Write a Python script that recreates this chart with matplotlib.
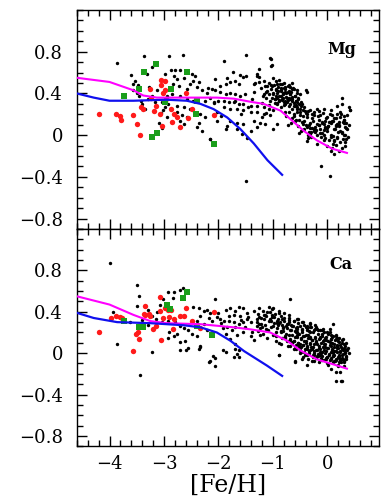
import matplotlib
matplotlib.use("Agg")
import matplotlib.pyplot as plt
from matplotlib.ticker import MultipleLocator, FixedLocator, FuncFormatter

# ---- Mg panel data ----
mg_black_x = [
    -3.87, -3.375, -2.91, -2.65, -3.22, -3.61, -3.57, -3.47, -3.31, -3.28, -3.13, -3.22, -3.16, -3.04, -3.01,
    -2.98, -2.88, -2.79, -2.70, -2.82, -2.76, -2.84, -2.73, -2.64, -2.49, -2.43, -2.46, -2.36, -2.52, -2.39,
    -2.57, -2.30, -2.21, -2.12, -2.16, -2.70, -2.58, -2.46, -2.24, -2.09, -2.76, -2.64, -2.52, -2.76, -2.67,
    -2.58, -2.70, -2.64, -2.33, -2.24, -2.36, -2.39, -2.30, -3.10, -3.04, -2.95, -2.98, -2.85, -2.95, -2.15,
    -3.53, -3.45, -3.40, -3.35, -3.30, -3.56, -3.50, -3.42, -3.05, -2.92,
    -1.89, -1.49, -1.06, -1.03, -1.03, -1.26, -1.73, -1.60, -1.54, -1.49, -1.29, -1.26, -2.06, -1.84, -1.78,
    -1.69, -0.99, -0.89, -1.86, -1.97, -1.63, -1.35, -1.26, -1.11, -1.02, -0.92, -0.83, -0.77, -0.68, -0.56,
    -0.37, -0.95, -0.86, -0.77, -0.68, -0.59, -0.50, -2.06, -1.97, -1.87, -1.78, -1.69, -1.60, -1.51, -1.35,
    -1.17, -1.08, -0.92, -0.83, -0.74, -0.65, -0.56, -0.46, -0.77, -0.92, -2.09, -2.00, -1.90, -1.81, -1.72,
    -1.63, -1.54, -1.41, -1.29, -1.17, -1.08, -0.99, -1.90, -1.78, -1.66, -1.54, -1.41, -1.29, -1.17, -1.05,
    -0.43, -0.31, -0.19, -0.07, 0.06, 0.18, 0.27, 0.39, -0.37, -0.25, -0.13, -0.01, 0.12, 0.24, 0.36,
    -0.43, -0.31, -0.19, -0.07, 0.06, 0.18, 0.30, -0.37, -0.25, -0.13, -0.01, 0.12, 0.24, 0.33,
    -0.31, -0.19, -0.07, 0.06, 0.18, 0.30, 0.12, 0.24, 0.03, 0.27, 0.42, 0.40, 0.36, 0.38, 0.33,
    -1.78, -1.66, -1.54, -1.66, -1.84, -1.35, -1.23, -1.14, -0.92, -0.99, -1.29, -1.41, -1.57, -1.48,
    -2.03, -2.03, -1.87,
    -2.16, -1.50, -0.12, 0.05, -0.37, -0.19, -0.07, 0.00, 0.09, 0.15, 0.27, 0.33, 0.12, 0.06, 0.22,
    -1.00, -0.95, -0.90, -0.85, -0.80, -0.75, -0.70, -0.65, -0.62, -0.88, -0.80, -0.72, -0.60, -0.55, -0.50,
    -0.65, -0.70, -0.85, -0.78, -0.62, -0.52, -0.45, -0.97, -0.82, -0.68, -0.58, -0.41, -0.28, -0.16, -0.04,
    0.09, 0.21, 0.31, -0.34, -0.22, -0.10, 0.02, 0.15, 0.26, -0.47, -0.40, -0.35, -0.28, -0.22, -0.15,
    -0.05, 0.03, 0.10, 0.17, 0.21, 0.28, 0.35, -1.12, -1.20, -1.38, -1.45, -1.58, -1.70, -1.95, -2.20,
]
mg_black_y = [
    0.69, 0.76, 0.76, 0.77, 0.65, 0.58, 0.49, 0.48, 0.59, 0.46, 0.43, 0.38, 0.32, 0.32, 0.24,
    0.59, 0.62, 0.62, 0.62, 0.57, 0.54, 0.49, 0.47, 0.55, 0.59, 0.57, 0.52, 0.51, 0.49, 0.46,
    0.44, 0.43, 0.40, 0.44, 0.36, 0.38, 0.35, 0.33, 0.33, 0.31, 0.28, 0.27, 0.25, 0.22, 0.19,
    0.17, 0.14, 0.11, 0.20, 0.17, 0.12, 0.08, 0.04, 0.12, 0.07, 0.17, 0.27, 0.39, 0.38, -0.04,
    0.52, 0.38, 0.30, 0.25, 0.35, 0.43, 0.40, 0.33, 0.21, 0.30,
    0.71, 0.77, 0.74, 0.73, 0.66, 0.63, 0.61, 0.58, 0.56, 0.57, 0.59, 0.56, 0.54, 0.55, 0.51,
    0.52, 0.55, 0.53, 0.49, 0.47, 0.49, 0.49, 0.51, 0.47, 0.47, 0.49, 0.49, 0.46, 0.46, 0.43,
    0.41, 0.44, 0.43, 0.41, 0.39, 0.38, 0.39, 0.43, 0.41, 0.39, 0.40, 0.39, 0.38, 0.39, 0.41,
    0.39, 0.39, 0.36, 0.35, 0.36, 0.33, 0.32, 0.30, 0.30, 0.30, 0.32, 0.33, 0.33, 0.32, 0.32,
    0.30, 0.30, 0.28, 0.28, 0.27, 0.25, 0.24, 0.27, 0.25, 0.25, 0.24, 0.22, 0.22, 0.20, 0.19,
    0.27, 0.24, 0.25, 0.25, 0.24, 0.28, 0.30, 0.27, 0.20, 0.19, 0.19, 0.17, 0.16, 0.17, 0.19,
    0.14, 0.12, 0.11, 0.11, 0.12, 0.11, 0.12, 0.08, 0.06, 0.06, 0.04, 0.06, 0.04, 0.08,
    0.01, 0.00, 0.00, -0.02, -0.02, 0.00, -0.05, -0.07, -0.05, 0.36, 0.24, 0.10, 0.06, -0.02, -0.10,
    0.14, 0.12, 0.11, 0.06, 0.09, 0.14, 0.12, 0.11, 0.11, 0.06, 0.08, 0.04, 0.01, -0.03,
    0.22, 0.14, 0.06,
    -0.04, -0.44, -0.30, -0.39, -0.06, -0.08, -0.05, -0.10, -0.12, -0.09, -0.12, -0.07, -0.18, -0.15, -0.15,
    0.40, 0.38, 0.42, 0.38, 0.45, 0.40, 0.42, 0.37, 0.44, 0.33, 0.32, 0.34, 0.28, 0.25, 0.22,
    0.25, 0.28, 0.27, 0.22, 0.18, 0.15, 0.18, 0.35, 0.39, 0.35, 0.33, 0.23, 0.16, 0.15, 0.14,
    0.14, 0.13, 0.15, 0.03, 0.04, 0.02, 0.09, 0.09, 0.02, 0.05, 0.10, -0.03, 0.07, 0.03, 0.10,
    0.07, 0.13, -0.01, 0.20, 0.09, 0.13, -0.04, 0.21, 0.17, 0.35, 0.27, 0.20, 0.33, 0.18, 0.45,
]
# extra stars in the two crowded Mg clumps
mg_dense_x = [
    -1.22, -1.18, -1.15, -1.12, -1.10, -1.07, -1.05, -1.03, -1.00, -0.98, -0.96, -0.94, -0.92, -0.90, -0.88,
    -0.86, -0.84, -0.82, -0.80, -0.78, -0.76, -0.74, -0.72, -0.70, -0.68, -0.66, -0.64, -0.62, -0.60, -0.58,
    -0.56, -0.54, -0.52, -0.50, -0.48, -1.20, -1.13, -1.08, -1.01, -0.97, -0.93, -0.89, -0.85, -0.81, -0.77,
    -0.73, -0.69, -0.65, -0.61, -0.57, -0.53, -0.49, -1.16, -1.04, -0.95, -0.87, -0.79, -0.71, -0.63, -0.55,
    -0.75, -0.70, -0.66, -0.62, -0.58, -0.54, -0.50, -0.46, -0.42, -0.38, -0.34, -0.30, -0.26, -0.22, -0.18,
    -0.14, -0.10, -0.06, -0.02, 0.02, 0.06, 0.10, 0.14, 0.18, 0.22, 0.26, 0.30, 0.34,
    -0.72, -0.64, -0.56, -0.48, -0.40, -0.32, -0.24, -0.16, -0.08, 0.00, 0.08, 0.16, 0.24, 0.32,
    -0.60, -0.52, -0.44, -0.36, -0.28, -0.20, -0.12, -0.04, 0.04, 0.12, 0.20, 0.28,
    -0.45, -0.35, -0.25, -0.15, -0.05, 0.05, 0.15, 0.25, 0.35, -0.30, -0.10, 0.10, 0.30,
    -1.01, -1.32, -1.29, -0.65, -0.40, 0.41,
]
mg_dense_y = [
    0.45, 0.38, 0.47, 0.36, 0.42, 0.50, 0.33, 0.44, 0.39, 0.48, 0.35, 0.43, 0.31, 0.46, 0.38,
    0.42, 0.34, 0.40, 0.29, 0.44, 0.37, 0.32, 0.47, 0.36, 0.30, 0.41, 0.35, 0.28, 0.38, 0.33,
    0.27, 0.36, 0.30, 0.25, 0.32, 0.31, 0.41, 0.29, 0.36, 0.31, 0.40, 0.34, 0.45, 0.36, 0.33,
    0.41, 0.39, 0.44, 0.31, 0.29, 0.35, 0.28, 0.52, 0.48, 0.52, 0.49, 0.50, 0.48, 0.45, 0.40,
    0.18, 0.22, 0.12, 0.20, 0.15, 0.09, 0.19, 0.13, 0.06, 0.17, 0.10, 0.03, 0.14, 0.08, 0.18,
    0.02, 0.12, 0.05, 0.16, 0.09, 0.00, 0.14, 0.06, -0.03, 0.10, 0.03, 0.15, 0.07,
    0.10, 0.16, 0.22, 0.04, 0.21, 0.07, 0.22, 0.10, 0.21, 0.07, 0.19, 0.10, 0.22, 0.00,
    0.14, 0.02, 0.11, 0.00, 0.20, 0.05, -0.02, 0.08, 0.13, -0.06, 0.03, -0.04,
    0.24, 0.23, 0.04, 0.23, -0.03, 0.20, 0.16, 0.20, 0.12, -0.02, 0.13, -0.08, 0.18,
    0.67, 0.50, 0.57, 0.50, 0.43, 0.24,
]
mg_red_x = [-4.20, -3.88, -3.80, -3.78, -3.57, -3.49, -3.44, -3.42, -3.38, -3.25, -3.23, -3.19, -3.14, -3.06,
            -3.05, -2.99, -3.02, -2.99, -2.96, -3.07, -2.88, -2.85, -2.81, -2.70, -2.76, -2.60, -2.55, -2.49,
            -2.08, -3.04]
mg_red_y = [0.20, 0.20, 0.18, 0.15, 0.19, 0.11, 0.00, 0.27, 0.25, 0.44, 0.36, 0.23, 0.28, 0.53,
            0.48, 0.52, 0.40, 0.43, 0.35, 0.20, 0.25, 0.13, 0.20, 0.08, 0.17, 0.40, 0.16, 0.25,
            0.19, 0.09]
mg_green_x = [-3.73, -3.45, -3.36, -3.14, -3.22, -3.13, -2.88, -2.58, -2.42, -2.39, -2.09, -2.98]
mg_green_y = [0.38, 0.44, 0.61, 0.68, -0.02, 0.02, 0.44, 0.61, 0.20, 0.33, -0.08, 0.32]

mg_mag_x = [-4.6, -4.0, -3.56, -3.38, -3.13, -2.64, -2.03, -1.72, -1.41, -1.17, -0.86, -0.68, -0.43, -0.19,
            0.09, 0.36]
mg_mag_y = [0.55, 0.51, 0.43, 0.38, 0.36, 0.36, 0.36, 0.35, 0.32, 0.30, 0.235, 0.155, 0.04, -0.05,
            -0.13, -0.17]
mg_blue_x = [-4.6, -4.29, -4.0, -3.56, -2.95, -2.58, -2.33, -2.09, -1.84, -1.60, -1.35, -1.10, -0.83]
mg_blue_y = [0.40, 0.36, 0.33, 0.33, 0.34, 0.33, 0.30, 0.25, 0.17, 0.06, -0.08, -0.24, -0.38]

# ---- Ca panel data ----
ca_black_x = [
    -3.99, -3.49, -3.45, -3.87, -3.44, -3.22, -2.70, -2.60, -2.33, -2.18, -2.06, -2.07, -1.91, -1.69, -1.65,
    -1.63, -2.65, -2.82, -3.93, -3.50, -3.01, -2.93, -2.84, -2.70, -3.07, -3.22, -3.15, -3.03, -2.93, -2.79,
    -2.70, -2.64, -2.55, -2.49, -2.40, -2.70, -2.61, -2.55, -2.33, -2.36, -2.76, -2.82, -2.91, -2.93, -2.46,
    -2.36, -2.27, -2.21, -2.15, -2.33, -2.18, -2.12, -2.27, -2.40, -2.21, -2.13, -2.16, -2.10, -3.40, -3.30,
    -3.12, -3.62, -3.30,
    -0.68, -2.06, -1.87, -1.78, -1.69, -1.63, -1.54, -1.72, -1.60, -1.48, -1.35, -1.26, -1.08, -0.99, -1.17,
    -1.02, -0.89, -0.80, -1.05, -0.92, -0.83, -0.71, -0.62, -0.53, -0.46, -0.37, -0.31, -0.74, -0.65, -0.56,
    -0.46, -0.37, -0.25, -0.19, -0.10, -0.01, 0.06, 0.15, -0.56, -0.43, -0.31, -0.22, -0.13, -0.04, 0.06,
    0.15, 0.21, 0.27, 0.33, -0.62, -0.53, -0.40, -0.31, -0.19, -0.07, 0.06, 0.18, 0.27, 0.36, -0.31,
    -0.19, -0.07, 0.06, 0.18, 0.27, -0.01, 0.12, 0.21, -0.13, -0.25, -0.37, -0.49, -0.62, -0.68, -2.00,
    -1.97, -1.90, -1.81, -1.72, -1.63, -1.54, -1.41, -1.29, -1.20, -1.11, -1.84, -1.75, -1.66, -1.54, -1.41,
    -1.23, -1.11, -0.99, -0.89, -0.83, -1.78, -1.69, -1.63, -1.87, -1.72, -0.89, -0.74, -0.86, -0.77,
    -0.59, -0.46, -0.37, 0.06, 0.15, 0.24, 0.15, 0.27, -0.25, -0.10, 0.00, 0.10, 0.20, 0.30, 0.35,
    0.40, 0.38,
    -0.55, -0.48, -0.42, -0.35, -0.28, -0.20, -0.14, -0.08, -0.02, 0.04, 0.09, 0.13, 0.19, 0.24, 0.30,
    -0.52, -0.44, -0.38, -0.30, -0.24, -0.16, -0.10, -0.05, 0.02, 0.08, 0.12, 0.17, 0.23, 0.28, 0.32,
    -0.50, -0.41, -0.33, -0.27, -0.18, -0.12, -0.03, 0.03, 0.11, 0.16, 0.22, 0.26, 0.34, -0.45, -0.36,
    -0.29, -0.21, -0.15, -0.06, 0.01, 0.07, 0.14, 0.20, 0.25, 0.31, -0.40, -0.32, -0.23, -0.09, 0.05,
    -0.98, -0.93, -0.87, -0.81, -0.76, -0.70, -0.66, -0.60, -0.95, -0.85, -0.78, -0.72, -0.64, -0.58, -0.52,
    -1.02, -0.90, -0.82, -0.69, -0.57, -1.30, -1.38, -1.45, -1.52, -1.58, -1.25, -1.15, -1.35, -1.48, -1.70,
    -1.80, -1.92, -2.02, -1.95, -1.86, -0.70, -0.32, -0.18, 0.10,
]
ca_black_y = [
    0.87, 0.66, 0.55, 0.09, -0.21, 0.01, 0.03, 0.03, 0.06, -0.09, -0.12, -0.05, 0.03, 0.04, -0.01,
    -0.04, 0.63, 0.59, 0.40, 0.46, 0.52, 0.59, 0.53, 0.61, 0.47, 0.36, 0.33, 0.30, 0.31, 0.30,
    0.26, 0.24, 0.22, 0.19, 0.17, 0.11, 0.12, 0.05, 0.07, 0.04, 0.19, 0.17, 0.20, 0.15, 0.45,
    0.44, 0.41, 0.42, 0.39, 0.36, 0.34, 0.31, 0.28, 0.31, 0.22, 0.19, -0.08, -0.03, 0.32, 0.42,
    0.40, 0.30, 0.27,
    0.52, 0.52, 0.42, 0.44, 0.41, 0.45, 0.44, 0.37, 0.36, 0.39, 0.41, 0.44, 0.45, 0.44, 0.37,
    0.37, 0.41, 0.39, 0.33, 0.31, 0.33, 0.34, 0.31, 0.33, 0.30, 0.26, 0.25, 0.28, 0.26, 0.25,
    0.23, 0.22, 0.22, 0.23, 0.22, 0.20, 0.18, 0.18, 0.18, 0.17, 0.15, 0.15, 0.15, 0.15, 0.14,
    0.14, 0.15, 0.10, 0.07, 0.12, 0.10, 0.10, 0.09, 0.09, 0.09, 0.07, 0.07, 0.04, 0.03, 0.03,
    0.03, 0.03, 0.01, 0.01, -0.02, -0.04, -0.02, -0.05, -0.02, -0.02, -0.02, 0.01, 0.04, 0.07, 0.39,
    0.33, 0.31, 0.31, 0.30, 0.28, 0.30, 0.30, 0.26, 0.25, 0.22, 0.25, 0.22, 0.18, 0.20, 0.17,
    0.18, 0.15, 0.18, 0.10, 0.15, 0.14, 0.09, 0.03, 0.01, -0.04, -0.02, 0.12, 0.20, 0.17,
    -0.08, -0.06, -0.11, -0.15, -0.18, -0.18, -0.27, -0.27, -0.08, -0.07, -0.10, -0.09, -0.12, -0.12, -0.06,
    0.00, 0.05,
    0.20, 0.15, 0.12, 0.18, 0.13, 0.11, 0.16, 0.12, 0.13, 0.11, 0.16, 0.09, 0.12, 0.08, 0.05,
    0.06, 0.08, 0.04, 0.06, 0.02, 0.05, 0.01, 0.06, 0.05, 0.03, 0.02, 0.05, 0.02, -0.01, 0.01,
    0.00, -0.02, 0.00, -0.04, -0.03, 0.00, -0.05, -0.01, -0.03, -0.07, -0.03, -0.06, -0.03, -0.04, -0.06,
    -0.08, -0.05, -0.09, -0.07, -0.11, -0.06, -0.08, -0.11, -0.09, -0.09, 0.25, 0.20, 0.27, 0.19, 0.23,
    0.29, 0.24, 0.30, 0.21, 0.26, 0.18, 0.22, 0.16, 0.12, 0.09, 0.16, 0.07, 0.11, 0.04, 0.08,
    0.35, 0.27, 0.25, 0.14, 0.20, 0.33, 0.20, 0.35, 0.25, 0.32, 0.28, 0.37, 0.13, 0.33, 0.25,
    0.36, 0.24, 0.35, 0.29, 0.19, 0.37, 0.29, 0.22, 0.28,
]
# extra stars in the crowded Ca band and blob
ca_dense_x = [
    -1.30, -1.27, -1.24, -1.21, -1.18, -1.15, -1.12, -1.09, -1.06, -1.03, -1.00, -0.97, -0.94, -0.91, -0.88,
    -0.85, -0.82, -0.79, -0.76, -0.73, -1.28, -1.22, -1.16, -1.10, -1.04, -0.98, -0.92, -0.86, -0.80, -0.74,
    -1.25, -1.19, -1.13, -1.07, -1.01, -0.95, -0.89, -0.83, -0.77, -0.71,
    -0.70, -0.66, -0.62, -0.58, -0.54, -0.50, -0.46, -0.42, -0.38, -0.34, -0.30, -0.26, -0.22, -0.18, -0.14,
    -0.10, -0.06, -0.02, 0.02, 0.06, 0.10, 0.14, 0.18, 0.22, 0.26, 0.30, 0.34,
    -0.68, -0.64, -0.60, -0.56, -0.52, -0.48, -0.44, -0.40, -0.36, -0.32, -0.28, -0.24, -0.20, -0.16, -0.12,
    -0.08, -0.04, 0.00, 0.04, 0.08, 0.12, 0.16, 0.20, 0.24, 0.28, 0.32,
    -0.69, -0.65, -0.61, -0.57, -0.53, -0.49, -0.45, -0.41, -0.37, -0.33, -0.29, -0.25, -0.21, -0.17, -0.13,
    -0.09, -0.05, -0.01, 0.03, 0.07, 0.11, 0.15, 0.19, 0.23, 0.27, 0.31,
    -0.63, -0.55, -0.47, -0.39, -0.31, -0.23, -0.15, -0.07, 0.01, 0.09, 0.17, 0.25, 0.33, -0.59, -0.51,
    -0.43, -0.35, -0.27, -0.19, -0.11, -0.03, 0.05, 0.13, 0.21, 0.29,
    -0.56, -0.44, -0.32, -0.20, -0.08, 0.04, 0.16, 0.28, -0.50, -0.38, -0.26, -0.14, -0.02, 0.10, 0.22, 0.34,
    -0.89, -0.59, 0.25,
]
ca_dense_y = [
    0.30, 0.38, 0.24, 0.34, 0.41, 0.27, 0.36, 0.22, 0.40, 0.31, 0.26, 0.38, 0.20, 0.33, 0.29,
    0.36, 0.24, 0.31, 0.19, 0.28, 0.21, 0.28, 0.33, 0.40, 0.25, 0.35, 0.29, 0.21, 0.34, 0.24,
    0.35, 0.19, 0.23, 0.31, 0.43, 0.17, 0.39, 0.27, 0.15, 0.32,
    0.30, 0.27, 0.31, 0.24, 0.29, 0.26, 0.22, 0.27, 0.24, 0.21, 0.25, 0.20, 0.23, 0.19, 0.22,
    0.17, 0.20, 0.16, 0.19, 0.14, 0.17, 0.13, 0.15, 0.11, 0.13, 0.09, 0.10,
    0.22, 0.18, 0.21, 0.16, 0.19, 0.14, 0.17, 0.12, 0.15, 0.10, 0.13, 0.09, 0.12, 0.07, 0.10,
    0.06, 0.09, 0.05, 0.08, 0.04, 0.06, 0.02, 0.05, 0.01, 0.03, 0.00,
    0.13, 0.10, 0.12, 0.08, 0.10, 0.06, 0.08, 0.04, 0.06, 0.02, 0.04, 0.00, 0.03, -0.01, 0.01,
    -0.03, 0.00, -0.04, -0.02, -0.05, -0.03, -0.06, -0.04, -0.07, -0.05, -0.08,
    0.26, 0.23, 0.20, 0.18, 0.16, 0.16, 0.14, 0.13, 0.12, 0.10, 0.08, 0.06, 0.04, 0.05, 0.03,
    0.01, -0.01, -0.02, -0.03, -0.05, -0.06, -0.07, -0.08, -0.09, -0.06,
    0.33, 0.30, 0.28, 0.25, 0.23, 0.20, 0.17, 0.14, 0.09, 0.07, 0.06, 0.04, 0.02, 0.00, -0.02, -0.04,
    -0.02, -0.09, -0.27,
]
ca_red_x = [-4.20, -3.98, -3.88, -3.80, -3.77, -3.57, -3.51, -3.47, -3.45, -3.36, -3.34, -3.34, -3.28, -3.25,
            -3.20, -3.07, -3.05, -3.08, -2.98, -2.93, -2.88, -2.90, -2.84, -2.82, -2.70, -2.64, -2.59, -2.49,
            -2.33, -2.09, -3.14, -3.02]
ca_red_y = [0.20, 0.34, 0.36, 0.35, 0.34, 0.02, 0.19, 0.20, 0.14, 0.38, 0.46, 0.37, 0.38, 0.36,
            0.23, 0.54, 0.13, 0.41, 0.44, 0.42, 0.42, 0.35, 0.23, 0.33, 0.36, 0.36, 0.44, 0.31,
            0.24, 0.40, 0.26, 0.34]
ca_green_x = [-3.73, -3.45, -3.38, -2.95, -2.89, -2.65, -2.58, -2.40, -2.12]
ca_green_y = [0.31, 0.25, 0.25, 0.47, 0.43, 0.53, 0.59, 0.26, 0.18]

ca_mag_x = [-4.6, -4.0, -3.56, -3.25, -2.95, -2.33, -1.72, -1.41, -1.05, -0.74, -0.49, -0.19, 0.12, 0.36]
ca_mag_y = [0.55, 0.47, 0.37, 0.31, 0.29, 0.28, 0.25, 0.23, 0.20, 0.12, 0.025, -0.06, -0.11, -0.15]
ca_blue_x = [-4.6, -4.29, -3.86, -3.25, -2.64, -2.33, -2.03, -1.78, -1.53, -1.41, -1.11, -0.83]
ca_blue_y = [0.39, 0.34, 0.30, 0.29, 0.27, 0.25, 0.20, 0.12, 0.02, -0.02, -0.12, -0.22]

panels = [
    ("Mg", mg_black_x + mg_dense_x, mg_black_y + mg_dense_y, mg_red_x, mg_red_y,
     mg_green_x, mg_green_y, mg_mag_x, mg_mag_y, mg_blue_x, mg_blue_y, 0.925, 0.80),
    ("Ca", ca_black_x + ca_dense_x, ca_black_y + ca_dense_y, ca_red_x, ca_red_y,
     ca_green_x, ca_green_y, ca_mag_x, ca_mag_y, ca_blue_x, ca_blue_y, 0.912, 0.815),
]

plt.rcParams['font.family'] = ['DejaVu Serif']

fig = plt.figure(figsize=(3.9, 4.98), dpi=100)
ax_top = fig.add_axes([0.197, 0.540, 0.775, 0.440])
ax_bot = fig.add_axes([0.197, 0.104, 0.775, 0.436], sharex=ax_top)


def fmt_num(v, pos):
    s = '0' if abs(v) < 1e-9 else '%g' % v
    return s.replace('-', '\u2212')


for ax, p in zip([ax_top, ax_bot], panels):
    name, bx, by, rx, ry, gx, gy, mx, my, lx, ly, tx, ty = p
    ax.scatter(bx, by, s=6, color='black', linewidths=0, zorder=2)
    ax.scatter(rx, ry, s=15, color='#ff1a1a', linewidths=0, zorder=3)
    ax.scatter(gx, gy, s=14, color='#1a9e1a', marker='s', linewidths=0, zorder=3)
    ax.plot(mx, my, color='#ff00ff', lw=1.5, zorder=4)
    ax.plot(lx, ly, color='#1010ee', lw=1.6, zorder=4)
    ax.set_xlim(-4.6, 0.95)
    ax.set_ylim(-0.9, 1.2)
    ax.xaxis.set_major_locator(FixedLocator([-4, -3, -2, -1, 0]))
    ax.xaxis.set_minor_locator(MultipleLocator(0.2))
    ax.yaxis.set_major_locator(FixedLocator([-0.8, -0.4, 0, 0.4, 0.8]))
    ax.yaxis.set_minor_locator(MultipleLocator(0.1))
    ax.yaxis.set_major_formatter(FuncFormatter(fmt_num))
    ax.tick_params(which='both', direction='in', top=True, right=True, labelsize=13, width=1.0)
    ax.tick_params(which='major', length=7)
    ax.tick_params(which='minor', length=4)
    ax.tick_params(axis='y', which='major', pad=10)
    ax.tick_params(axis='x', which='major', pad=6)
    for sp in ax.spines.values():
        sp.set_linewidth(1.0)
    ax.text(tx, ty, name, transform=ax.transAxes, ha='right', va='baseline',
            fontsize=11.5, fontweight='bold')

ax_top.tick_params(labelbottom=False)
ax_bot.xaxis.set_major_formatter(FuncFormatter(lambda v, pos: fmt_num(round(v), pos)))
ax_bot.set_xlabel('[Fe/H]', fontsize=17, labelpad=1)

fig.savefig('out.png', dpi=100)
